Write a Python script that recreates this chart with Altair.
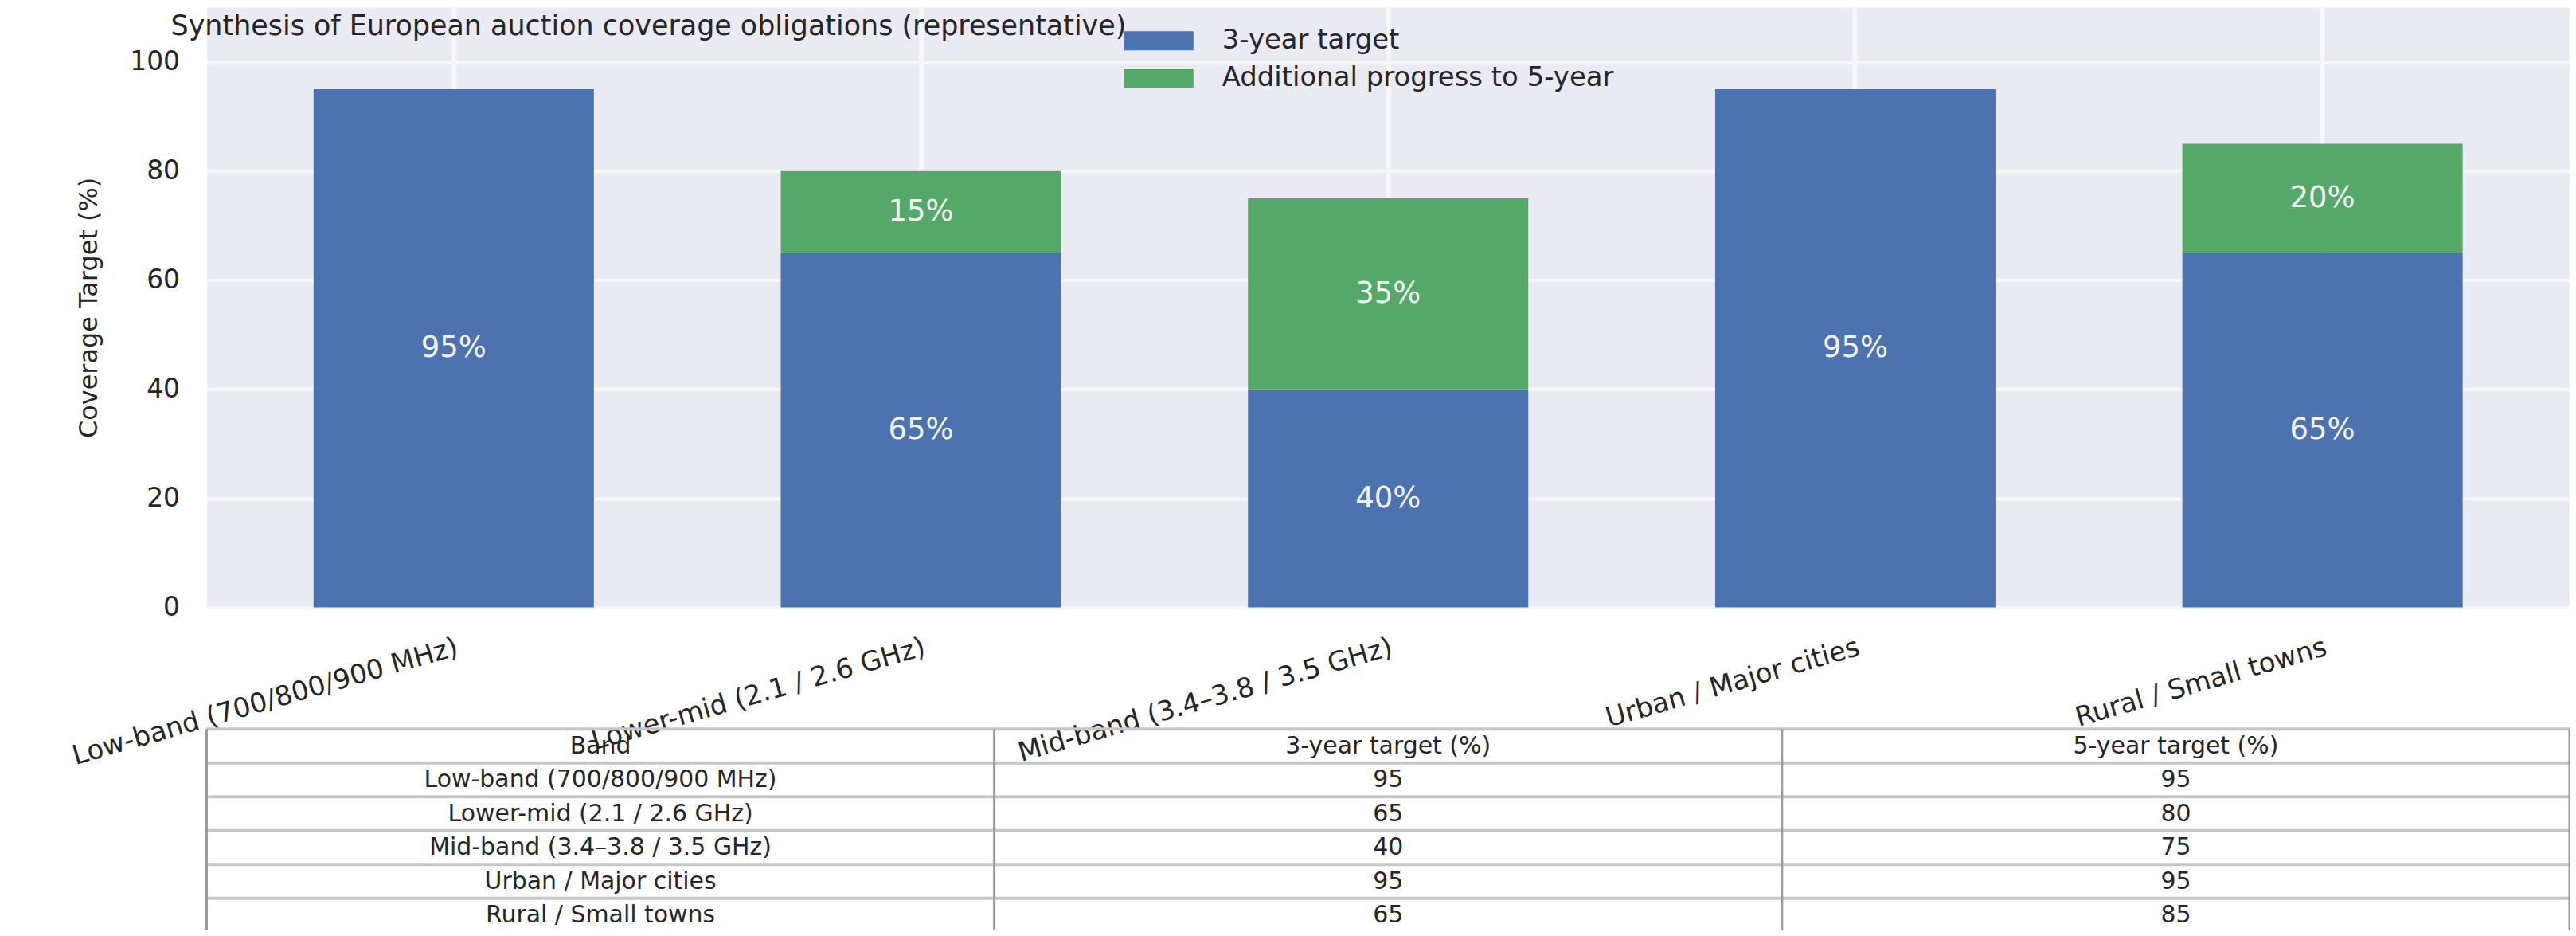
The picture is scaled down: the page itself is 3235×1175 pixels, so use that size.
import altair as alt
import pandas as pd

# ---------------- data ----------------
bands = [
    "Low-band (700/800/900 MHz)",
    "Lower-mid (2.1 / 2.6 GHz)",
    "Mid-band (3.4–3.8 / 3.5 GHz)",
    "Urban / Major cities",
    "Rural / Small towns",
]
target_3yr = [95, 65, 40, 95, 65]
target_5yr = [95, 80, 75, 95, 85]
series = ["3-year target", "Additional progress to 5-year"]
colors = ["#4C72B0", "#55A868"]
table_header = ["Band", "3-year target (%)", "5-year target (%)"]
y_ticks = [0, 20, 40, 60, 80, 100]
title_text = "Synthesis of European auction coverage obligations (representative)"
y_title = "Coverage Target (%)"

# ---------------- style ----------------
W, H = 2974, 755
FONT = "DejaVu Sans"
INK = "#262626"
GRID = "#F7F7FA"
ROW_H = 42.6
TABLE_TOP = 908

# ---------------- frames ----------------
rows = []
for b, t3, t5 in zip(bands, target_3yr, target_5yr):
    rows.append(dict(band=b, series=series[0], start=0, end=t3,
                     mid=t3 / 2, label=f"{t3}%", inc=t3))
    rows.append(dict(band=b, series=series[1], start=t3, end=t5,
                     mid=(t3 + t5) / 2, label=f"{t5 - t3}%", inc=t5 - t3))
bars_df = pd.DataFrame(rows)
labels_df = bars_df[bars_df["inc"] > 0].copy()

cells = []
for c, h in enumerate(table_header):
    cells.append(dict(xc=c + 0.5, yc=0.5, txt=h))
for r, (b, t3, t5) in enumerate(zip(bands, target_3yr, target_5yr), start=1):
    for c, v in enumerate([b, str(t3), str(t5)]):
        cells.append(dict(xc=c + 0.5, yc=r + 0.5, txt=v))
cells_df = pd.DataFrame(cells)
n_rows = len(bands) + 1
n_cols = len(table_header)
hlines_df = pd.DataFrame(dict(r=list(range(n_rows)), x0=[0] * n_rows, x1=[n_cols] * n_rows))
vlines_df = pd.DataFrame(dict(c=list(range(n_cols + 1)), y0=[0] * (n_cols + 1), y1=[n_rows] * (n_cols + 1)))

# ---------------- scales / axes ----------------
x_scale = alt.Scale(domain=bands, paddingInner=0.4, paddingOuter=0.229)
y_scale = alt.Scale(domain=[0, 110], nice=False, zero=True)
tx_scale = alt.Scale(domain=[0, n_cols], nice=False, zero=False)
ty_scale = alt.Scale(domain=[0, n_rows], range=[TABLE_TOP, TABLE_TOP + n_rows * ROW_H],
                     nice=False, zero=False)

x_axis = alt.Axis(
    title=None, labelAngle=344, labelAlign="right", labelBaseline="top",
    labelPadding=33, labelFontSize=34, labelFont=FONT, labelColor=INK,
    labelLimit=3000, labelOverlap=False, ticks=False, tickSize=0,
    domain=False, grid=True, gridColor=GRID, gridWidth=6, bandPosition=0.5,
)
y_axis = alt.Axis(
    values=y_ticks, title=y_title, titleFont=FONT, titleFontSize=32,
    titleFontWeight="normal", titleColor=INK, titlePadding=34,
    labelFont=FONT, labelFontSize=33, labelColor=INK, labelPadding=34,
    labelOverlap=False, ticks=False, tickSize=0, domain=False,
    grid=True, gridColor=GRID, gridWidth=4,
)

bars = alt.Chart(bars_df).mark_bar().encode(
    x=alt.X("band:N", scale=x_scale, sort=None, axis=x_axis, title=None),
    y=alt.Y("start:Q", scale=y_scale, axis=y_axis, title=y_title),
    y2="end:Q",
    color=alt.Color(
        "series:N", scale=alt.Scale(domain=series, range=colors),
        legend=alt.Legend(
            title=None, orient="none", legendX=1178.5, legendY=22, direction="vertical",
            symbolType="M-2.175,-0.6H2.175V0.6H-2.175Z", symbolSize=1600,
            symbolStrokeWidth=0, symbolOpacity=1,
            labelFont=FONT, labelFontSize=34, labelColor=INK, labelOffset=59.5,
            labelLimit=3000, rowPadding=10, padding=0,
        ),
    ),
)

labels = alt.Chart(labels_df).mark_text(
    font=FONT, fontSize=37, color="white", opacity=0.92,
    align="center", baseline="middle",
).encode(
    x=alt.X("band:N", scale=x_scale, sort=None, axis=x_axis, title=None),
    y=alt.Y("mid:Q", scale=y_scale, axis=y_axis, title=y_title),
    text="label:N",
)

inner = alt.layer(bars, labels)

table_text = alt.Chart(cells_df).mark_text(
    font=FONT, fontSize=30, color=INK, align="center", baseline="middle",
).encode(
    x=alt.X("xc:Q", scale=tx_scale, axis=None),
    y=alt.Y("yc:Q", scale=ty_scale, axis=None),
    text="txt:N",
)

hrules = alt.Chart(hlines_df).mark_rule(color="#c6c6c6", strokeWidth=4).encode(
    x=alt.X("x0:Q", scale=tx_scale, axis=None),
    x2="x1:Q",
    y=alt.Y("r:Q", scale=ty_scale, axis=None),
)

vrules = alt.Chart(vlines_df).mark_rule(color="#9a9a9a", strokeWidth=3).encode(
    x=alt.X("c:Q", scale=tx_scale, axis=None),
    y=alt.Y("y0:Q", scale=ty_scale, axis=None),
    y2="y1:Q",
)

chart = (
    alt.layer(inner, hrules, vrules, table_text)
    .resolve_scale(x="independent", y="independent")
    .properties(
        width=W,
        height=H,
        padding={"left": 252, "top": 0, "right": 0, "bottom": 405},
        autosize=alt.AutoSizeParams(type="none"),
        view=alt.ViewBackground(fill="#EAEAF2", stroke="transparent"),
        title=alt.TitleParams(
            text=title_text, anchor="start", frame="group", orient="top",
            offset=0, dx=-45, dy=70, baseline="alphabetic", align="left",
            font=FONT, fontSize=35, fontWeight="normal", color=INK,
        ),
    )
    .configure_view(fill="#EAEAF2", stroke="transparent")
)

chart.save("out.html", embed_options={"renderer": "svg", "actions": False})
